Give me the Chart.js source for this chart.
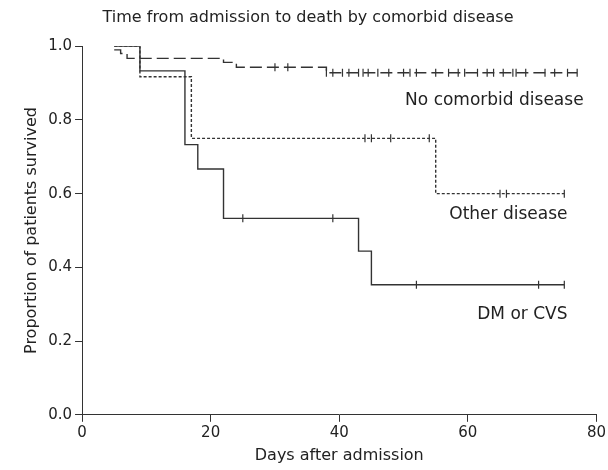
<!DOCTYPE html>
<html><head><meta charset="utf-8">
<script src="https://cdn.jsdelivr.net/npm/chart.js@4"></script>
<style>html,body{margin:0;background:#fff}#wrap{width:608px;height:470px}</style>
</head><body><div id="wrap"><canvas id="c"></canvas></div>
<script>
// Kaplan-Meier steps: [day, survival after that day]
const dmSteps = [[5,1],[9,0.933],[16,0.733],[18,0.667],[22,0.533],[43,0.444],[45,0.353],[75,0.353]];
const dmCensor = [25, 39, 52, 71, 75];
const otherSteps = [[5,1],[9,0.917],[17,0.75],[55,0.60],[75,0.60]];
const otherCensor = [44, 45, 48, 54, 65, 66, 75];
const noneSteps = [[5,0.99],[6,0.98],[7,0.967],[22,0.956],[24,0.943],[38,0.928],[77,0.928]];
const noneCensor = [30, 32, 38, 39, 40.5, 41.5, 43, 43.7, 44.5, 46, 47.7, 50, 51, 52, 55, 57, 58.5, 59.5, 61.5, 63, 64, 65.5, 67, 67.5, 69, 72, 73.5, 75.5, 77];
const xTicks = [0, 20, 40, 60, 80];
const yTicks = [0, 0.2, 0.4, 0.6, 0.8, 1.0];

const toPts = s => s.map(([x, y]) => ({x, y}));
function censorPts(steps, days) {
    return days.map(d => {
        let y = steps[0][1];
        steps.forEach(([x, v]) => { if (x <= d) y = v; });
        return {x: d, y};
    });
}
const ink = '#333';
function stepLine(steps, dash) {
    return { data: toPts(steps), showLine: true, stepped: 'before', borderColor: ink, borderWidth: 1.4,
             borderDash: dash, pointRadius: 0 };
}
function ticks(steps, days) {
    return { data: censorPts(steps, days), showLine: false, pointStyle: 'line', rotation: 90,
             pointRadius: 4, borderColor: ink, borderWidth: 1.2 };
}
const labels = {
    id: 'labels',
    afterDraw(chart) {
        const {ctx, scales: {x, y}} = chart;
        ctx.save();
        ctx.fillStyle = '#222';
        ctx.font = '17px "DejaVu Sans", sans-serif';
        ctx.textAlign = 'right';
        ctx.fillText('No comorbid disease', x.getPixelForValue(78), y.getPixelForValue(0.84));
        ctx.fillText('Other disease', x.getPixelForValue(75.5), y.getPixelForValue(0.53));
        ctx.fillText('DM or CVS', x.getPixelForValue(75.5), y.getPixelForValue(0.26));
        ctx.restore();
    }
};
new Chart(document.getElementById('c'), {
    type: 'scatter',
    data: { datasets: [
        stepLine(dmSteps, []), ticks(dmSteps, dmCensor),
        stepLine(otherSteps, [3, 2]), ticks(otherSteps, otherCensor),
        stepLine(noneSteps, [12, 5]), ticks(noneSteps, noneCensor)
    ] },
    options: {
        responsive: true, maintainAspectRatio: false, animation: false,
        layout: { padding: { top: 4, right: 10, left: 18, bottom: 5 } },
        plugins: {
            legend: { display: false }, tooltip: { enabled: false },
            title: { display: true, text: 'Time from admission to death by comorbid disease',
                     color: '#222', font: { size: 16, weight: 'normal', family: 'DejaVu Sans' }, padding: { top: 4, bottom: 19 } }
        },
        scales: {
            x: { type: 'linear', min: 0, max: 80, afterBuildTicks: a => { a.ticks = xTicks.map(v => ({value: v})); },
                 grid: { drawOnChartArea: false, tickLength: 7, color: ink }, border: { color: ink },
                 ticks: { color: '#222', font: { size: 15, family: 'DejaVu Sans' }, padding: 2 },
                 title: { display: true, text: 'Days after admission', color: '#222', font: { size: 16, family: 'DejaVu Sans' }, padding: { top: 2, bottom: 0 } } },
            y: { min: 0, max: 1, afterBuildTicks: a => { a.ticks = yTicks.map(v => ({value: v})); },
                 grid: { drawOnChartArea: false, tickLength: 7, color: ink }, border: { color: ink },
                 ticks: { color: '#222', font: { size: 15, family: 'DejaVu Sans' }, callback: v => v.toFixed(1) },
                 title: { display: true, text: 'Proportion of patients survived', color: '#222', font: { size: 16, family: 'DejaVu Sans' } } }
        }
    },
    plugins: [labels]
});
</script></body></html>
